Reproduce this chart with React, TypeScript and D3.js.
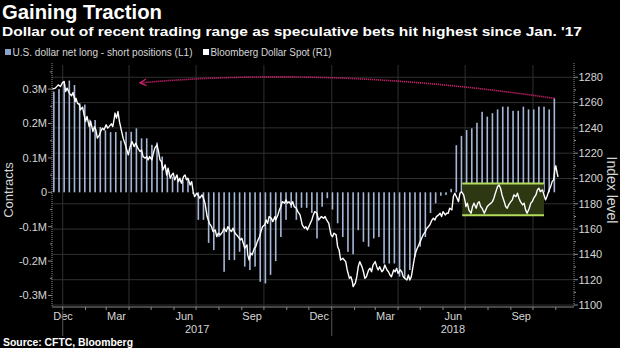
import React from "react";
import * as d3 from "d3";

// ---------- DATA ----------
// CFTC weekly net long - short positions (thousands of contracts), starting 2016-12-20
const barStartDate = "2016-12-20";
const netPositionsK = [
  293, 300, 321, 325, 312, 259, 255, 211, 210, 190,
  180, 175, 175, 150, 176, 176, 186, 157, 157, 138,
  145, 104, 65, 45, 40, 35, 35, -5, -80, -80,
  -147, -168, -130, -231, -197, -197, -173, -216, -226, -216,
  -260, -265, -240, -200, -130, -80, -45, -80, -45, -45,
  -60, -134, -42, -17, -50, -90, -130, -173, -180, -110,
  -144, -158, -134, -130, -207, -207, -207, -245, -250, -226,
  -187, -158, -130, -60, -32, -10, -8, 10, 137, 164,
  181, 186, 202, 234, 220, 230, 241, 249, 249, 237,
  237, 249, 241, 241, 249, 249, 241, 273,
];

// Bloomberg Dollar Spot: days since 2017-01-01 and index level
const spotBaseDate = "2017-01-01";
const spotDays = [
  -14, -10, -6, -3, 0, 2, 4, 6, 9, 12, 14, 17, 18, 20, 23, 24, 27, 29, 31, 33,
  36, 38, 41, 43, 45, 47, 50, 52, 54, 56, 59, 61, 63, 66, 68, 70, 71, 73, 75, 77,
  80, 82, 85, 87, 89, 91, 94, 97, 99, 102, 105, 107, 109, 112, 114, 116, 118, 121, 123, 125,
  128, 130, 132, 134, 136, 139, 141, 143, 146, 148, 150, 152, 155, 157, 159, 161, 164, 166, 168, 170,
  173, 175, 177, 179, 182, 186, 189, 191, 193, 196, 199, 202, 204, 207, 209, 211, 214, 217, 219, 222,
  224, 227, 229, 231, 234, 236, 238, 241, 243, 245, 247, 250, 251, 253, 255, 257, 260, 262, 264, 267,
  269, 271, 274, 276, 278, 280, 283, 285, 288, 289, 292, 294, 296, 298, 301, 303, 305, 307, 310, 312,
  314, 317, 319, 322, 325, 328, 330, 332, 336, 338, 340, 342, 345, 347, 349, 351, 354, 356, 358, 361,
  364, 366, 368, 371, 373, 375, 377, 380, 382, 384, 386, 389, 391, 393, 394, 397, 399, 401, 403, 406,
  408, 410, 412, 415, 417, 419, 421, 424, 426, 428, 430, 433, 435, 437, 440, 442, 444, 446, 449, 451,
  453, 455, 458, 460, 462, 464, 467, 469, 471, 473, 476, 478, 480, 482, 485, 487, 489, 492, 494, 496,
  498, 501, 503, 505, 507, 510, 512, 514, 516, 519, 521, 523, 525, 528, 530, 532, 535, 537, 539, 541,
  544, 546, 547, 549, 551, 554, 556, 558, 561, 563, 565, 567, 569, 572, 574, 576, 578, 581, 583, 585,
  587, 590, 592, 594, 596, 599, 601, 603, 605, 608, 610, 612, 615, 617, 619, 621, 624, 626, 628, 630,
  633, 635, 637, 639, 642, 644, 646, 648, 651, 653, 655, 657, 660, 662, 664, 666, 668, 669, 671, 672,
];
const spotValues = [
  1270.6, 1271.4, 1274.0, 1272.7, 1275.9, 1276.7, 1268.7, 1271.4, 1267.5, 1265.3, 1268.0, 1260.8, 1263.5, 1259.6, 1258.2, 1254.3, 1256.4, 1250.3, 1245.0, 1249.0,
  1241.0, 1245.0, 1237.1, 1241.0, 1238.4, 1231.9, 1234.5, 1237.9, 1239.8, 1238.4, 1242.4, 1239.8, 1241.0, 1243.2, 1241.0, 1247.7, 1251.7, 1247.7, 1252.9, 1245.0,
  1237.1, 1231.9, 1226.6, 1222.6, 1218.7, 1224.0, 1229.2, 1225.2, 1227.9, 1224.0, 1221.3, 1222.6, 1217.3, 1216.1, 1217.3, 1214.7, 1217.3, 1214.7, 1220.0, 1224.0,
  1226.6, 1221.3, 1214.7, 1213.4, 1206.8, 1210.8, 1202.8, 1208.1, 1200.2, 1202.8, 1204.2, 1198.9, 1202.8, 1197.5, 1200.2, 1196.3, 1201.5, 1202.8, 1198.9, 1200.2,
  1194.9, 1197.5, 1189.6, 1185.7, 1188.4, 1184.4, 1187.0, 1184.4, 1180.5, 1169.9, 1164.6, 1161.9, 1158.0, 1159.3, 1154.0, 1156.7, 1155.4, 1158.0, 1160.7, 1158.0,
  1161.9, 1159.3, 1158.0, 1160.7, 1156.7, 1155.4, 1154.0, 1151.4, 1152.8, 1148.8, 1144.9, 1147.5, 1139.6, 1135.6, 1140.9, 1139.6, 1144.9, 1146.1, 1150.1, 1154.0,
  1158.0, 1161.9, 1163.3, 1167.2, 1164.6, 1169.9, 1168.6, 1165.9, 1169.9, 1167.2, 1171.2, 1175.2, 1177.8, 1181.7, 1180.5, 1183.1, 1180.5, 1181.7, 1179.1, 1181.7,
  1177.8, 1176.5, 1173.8, 1171.2, 1163.3, 1160.7, 1161.9, 1159.3, 1164.6, 1167.2, 1171.2, 1173.8, 1172.5, 1167.2, 1168.6, 1169.9, 1168.6, 1169.9, 1167.2, 1164.6,
  1155.4, 1154.0, 1156.7, 1155.4, 1146.1, 1143.5, 1135.6, 1136.9, 1135.6, 1134.3, 1127.7, 1121.1, 1122.4, 1118.4, 1114.5, 1117.2, 1122.4, 1130.3, 1134.3, 1130.3,
  1126.3, 1121.1, 1122.4, 1127.7, 1129.0, 1126.3, 1131.6, 1134.3, 1130.3, 1127.7, 1130.3, 1126.3, 1127.7, 1131.6, 1127.7, 1126.3, 1123.7, 1122.4, 1127.7, 1126.3,
  1129.0, 1125.0, 1127.7, 1126.3, 1122.4, 1121.1, 1119.8, 1123.7, 1119.8, 1122.4, 1133.0, 1139.6, 1143.5, 1146.1, 1150.1, 1152.8, 1155.4, 1158.0, 1160.7, 1161.9,
  1163.3, 1167.2, 1168.6, 1167.2, 1169.9, 1171.2, 1172.5, 1169.9, 1173.8, 1171.2, 1172.5, 1172.5, 1176.5, 1175.2, 1185.7, 1188.4, 1184.4, 1181.7, 1188.4, 1189.6,
  1187.0, 1181.7, 1177.8, 1180.5, 1175.2, 1172.5, 1177.8, 1180.5, 1176.5, 1180.5, 1181.7, 1177.8, 1176.5, 1172.5, 1175.2, 1177.8, 1179.1, 1180.5, 1181.7, 1184.4,
  1188.4, 1193.6, 1194.9, 1192.3, 1187.0, 1181.7, 1177.8, 1176.5, 1179.1, 1181.7, 1183.1, 1187.0, 1185.7, 1188.4, 1184.4, 1181.7, 1179.1, 1180.5, 1175.2, 1172.5,
  1176.5, 1180.5, 1181.7, 1184.4, 1187.0, 1191.0, 1192.3, 1189.6, 1191.0, 1187.0, 1183.1, 1185.7, 1191.0, 1193.6, 1197.5, 1198.9, 1208.4, 1210.0, 1203.6, 1201.3,
];

const leftTickValues = [300, 200, 100, 0, -100, -200, -300];
const leftTickLabels = ["0.3M", "0.2M", "0.1M", "0", "-0.1M", "-0.2M", "-0.3M"];
const rightTickValues = [1100, 1120, 1140, 1160, 1180, 1200, 1220, 1240, 1260, 1280];
const monthLabels = ["Dec", "Mar", "Jun", "Sep", "Dec", "Mar", "Jun", "Sep"];
const monthLabelDates = [
  "2016-12-15", "2017-03-15", "2017-06-15", "2017-09-15",
  "2017-12-15", "2018-03-15", "2018-06-15", "2018-09-15",
];
const yearLabels = ["2017", "2018"];
const yearStartDates = ["2017-01-01", "2018-01-01"];
const rangeBoxDates = ["2018-06-27", "2018-10-16"];
const rangeBoxLevels = [1171, 1196];
const arrowTargetDate = "2017-04-16";
const arrowTargetK = 318;
const arrowControlDate = "2018-01-02";
const arrowControlK = 369;

// ---------- LAYOUT ----------
const W = 620;
const H = 348;
const L = 52;
const R = 574;
const T = 65;
const B = 307;

const parse = d3.utcParse("%Y-%m-%d");

export default function App() {
  const x = d3
    .scaleUtc()
    .domain([new Date(Date.UTC(2016, 11, 17, 12)), new Date(Date.UTC(2018, 10, 25, 16))])
    .range([L, R]);
  const yL = d3.scaleLinear().domain([-333.4, 370.1]).range([B, T]);
  const yR = d3.scaleLinear().domain([1098.42, 1289.7]).range([B, T]);

  const barStart = parse(barStartDate)!;
  const bars = netPositionsK.map((v, i) => ({ date: d3.utcDay.offset(barStart, 7 * i), v }));
  const spotBase = parse(spotBaseDate)!;
  const spot = spotDays.map((d, i) => ({ date: d3.utcDay.offset(spotBase, d), v: spotValues[i] }));

  const line = d3
    .line<{ date: Date; v: number }>()
    .x((d) => x(d.date))
    .y((d) => yR(d.v));

  const quarterStarts = d3.utcMonth.every(3)!.range(new Date(Date.UTC(2017, 0, 1)), x.domain()[1]);
  const monthStarts = d3.utcMonth.range(new Date(Date.UTC(2017, 0, 1)), x.domain()[1]);
  const leftMinor = d3.range(-350, 400, 100).filter((v) => v > -333 && v < 370);
  const rightMinor = d3.range(1110, 1290, 20);

  // arrow
  const last = bars[bars.length - 1];
  const p0: [number, number] = [x(last.date), yL(last.v)];
  const p1: [number, number] = [x(parse(arrowControlDate)!), yL(arrowControlK)];
  const p2: [number, number] = [x(parse(arrowTargetDate)!), yL(arrowTargetK)];
  const path = d3.path();
  path.moveTo(p0[0], p0[1]);
  path.quadraticCurveTo(p1[0], p1[1], p2[0], p2[1]);
  const ang = Math.atan2(p2[1] - p1[1], p2[0] - p1[0]);
  const al = 7;
  const a1: [number, number] = [p2[0] - al * Math.cos(ang - 0.5), p2[1] - al * Math.sin(ang - 0.5)];
  const a2: [number, number] = [p2[0] - al * Math.cos(ang + 0.5), p2[1] - al * Math.sin(ang + 0.5)];

  const bx0 = x(parse(rangeBoxDates[0])!);
  const bx1 = x(parse(rangeBoxDates[1])!);
  const by0 = yR(rangeBoxLevels[1]);
  const by1 = yR(rangeBoxLevels[0]);

  const labelFont = "'Liberation Sans', Arial, sans-serif";
  const axisColor = "#8a8a8a";
  const textColor = "#d6d6d6";
  const gridColor = "#303030";

  return (
    <svg
      width={W}
      height={H}
      style={{ position: "fixed", left: 0, top: 0, display: "block" }}
      fontFamily={labelFont}
    >
      <defs>
        <clipPath id="plot">
          <rect x={L} y={T - 2} width={R - L} height={B - T + 2} />
        </clipPath>
      </defs>
      <rect x={0} y={0} width={W} height={H} fill="#000" />

      {/* titles */}
      <text x={2} y={19} fontSize={19.5} fontWeight="bold" fill="#fff" textLength={160} lengthAdjust="spacingAndGlyphs">
        Gaining Traction
      </text>
      <text x={2} y={36} fontSize={13.5} fontWeight="bold" fill="#fff" textLength={580} lengthAdjust="spacingAndGlyphs">
        Dollar out of recent trading range as speculative bets hit highest since Jan. '17
      </text>

      {/* legend */}
      <rect x={5} y={49} width={6} height={6} fill="#8da2c8" />
      <text x={12.5} y={55.5} fontSize={10} fill={textColor} textLength={180} lengthAdjust="spacingAndGlyphs">
        U.S. dollar net long - short positions (L1)
      </text>
      <rect x={203} y={49} width={6} height={6} fill="#fff" />
      <text x={210.5} y={55.5} fontSize={10} fill={textColor} textLength={121} lengthAdjust="spacingAndGlyphs">
        Bloomberg Dollar Spot  (R1)
      </text>

      {/* grid */}
      {rightTickValues.map((v) => (
        <line key={"gh" + v} x1={L} x2={R} y1={yR(v)} y2={yR(v)} stroke={gridColor} strokeWidth={1} />
      ))}
      {quarterStarts.map((d) => (
        <line key={"gv" + d.getTime()} x1={x(d)} x2={x(d)} y1={T} y2={B} stroke={gridColor} strokeWidth={1} />
      ))}

      {/* bars */}
      <g clipPath="url(#plot)">
        {bars.map((b, i) => (
          <rect
            key={"b" + i}
            x={x(b.date) - 0.8}
            width={1.6}
            y={Math.min(yL(0), yL(b.v))}
            height={Math.abs(yL(b.v) - yL(0))}
            fill="#a6b7d6"
          />
        ))}
      </g>

      {/* range box */}
      <rect x={bx0} y={by0} width={bx1 - bx0} height={by1 - by0} fill="#2d3813" />
      <line x1={bx0} x2={bx1} y1={by0} y2={by0} stroke="#b4dc5c" strokeWidth={2} />
      <line x1={bx0} x2={bx1} y1={by1} y2={by1} stroke="#b4dc5c" strokeWidth={2} />

      {/* spot line */}
      <g clipPath="url(#plot)">
        <path d={line(spot) || ""} fill="none" stroke="#fff" strokeWidth={1.4} strokeLinejoin="round" />
      </g>

      {/* arrow */}
      <path d={path.toString()} fill="none" stroke="#c8236a" strokeWidth={1.6} strokeDasharray="1.2 0.8" />
      <path
        d={`M${a1[0]},${a1[1]}L${p2[0]},${p2[1]}L${a2[0]},${a2[1]}`}
        fill="none"
        stroke="#c8236a"
        strokeWidth={1.4}
      />

      {/* left axis */}
      <line x1={L} x2={L} y1={T - 2} y2={B} stroke={axisColor} strokeDasharray="1 1" />
      {leftTickValues.map((v, i) => (
        <g key={"lt" + v}>
          <line x1={L - 4} x2={L} y1={yL(v)} y2={yL(v)} stroke={axisColor} />
          <text x={L - 5} y={yL(v)} dy="0.35em" textAnchor="end" fontSize={11} fill={textColor}>
            {leftTickLabels[i]}
          </text>
        </g>
      ))}
      {leftMinor.map((v) => (
        <line key={"lm" + v} x1={L - 2} x2={L} y1={yL(v)} y2={yL(v)} stroke={axisColor} />
      ))}
      <text
        transform={`translate(13,${(T + B) / 2 + 4}) rotate(-90)`}
        textAnchor="middle"
        fontSize={13}
        fill={textColor}
      >
        Contracts
      </text>

      {/* right axis */}
      <line x1={R} x2={R} y1={T - 2} y2={B} stroke={axisColor} strokeDasharray="1 1" />
      {rightTickValues.map((v) => (
        <g key={"rt" + v}>
          <line x1={R} x2={R + 4} y1={yR(v)} y2={yR(v)} stroke={axisColor} />
          <text x={R + 4.5} y={yR(v)} dy="0.35em" fontSize={11} fill={textColor}>
            {v}
          </text>
        </g>
      ))}
      {rightMinor.map((v) => (
        <line key={"rm" + v} x1={R} x2={R + 2} y1={yR(v)} y2={yR(v)} stroke={axisColor} />
      ))}
      <text
        transform={`translate(607,${(T + B) / 2 + 4}) rotate(90)`}
        textAnchor="middle"
        fontSize={14}
        fill={textColor}
      >
        Index level
      </text>

      {/* bottom axis */}
      <line x1={L} x2={R} y1={B} y2={B} stroke={axisColor} />
      {monthStarts.map((d) => (
        <line key={"mt" + d.getTime()} x1={x(d)} x2={x(d)} y1={B} y2={B + 3} stroke={axisColor} />
      ))}
      {monthLabels.map((m, i) => {
        const px = Math.max(x(parse(monthLabelDates[i])!), L + 11);
        return (
          <text key={"ml" + i} x={px} y={320} textAnchor="middle" fontSize={11} fill={textColor}>
            {m}
          </text>
        );
      })}
      {yearStartDates.map((d, i) => {
        const xs = x(parse(d)!);
        const xe = i + 1 < yearStartDates.length ? x(parse(yearStartDates[i + 1])!) : R;
        return (
          <g key={"yr" + i}>
            <line x1={xs} x2={xs} y1={311} y2={336} stroke="#555" />
            <text x={(xs + xe) / 2} y={333} textAnchor="middle" fontSize={11} fill={textColor}>
              {yearLabels[i]}
            </text>
          </g>
        );
      })}

      {/* source */}
      <text x={3} y={346} fontSize={10} fontWeight="bold" fill="#fff" textLength={130} lengthAdjust="spacingAndGlyphs">
        Source: CFTC, Bloomberg
      </text>
    </svg>
  );
}
